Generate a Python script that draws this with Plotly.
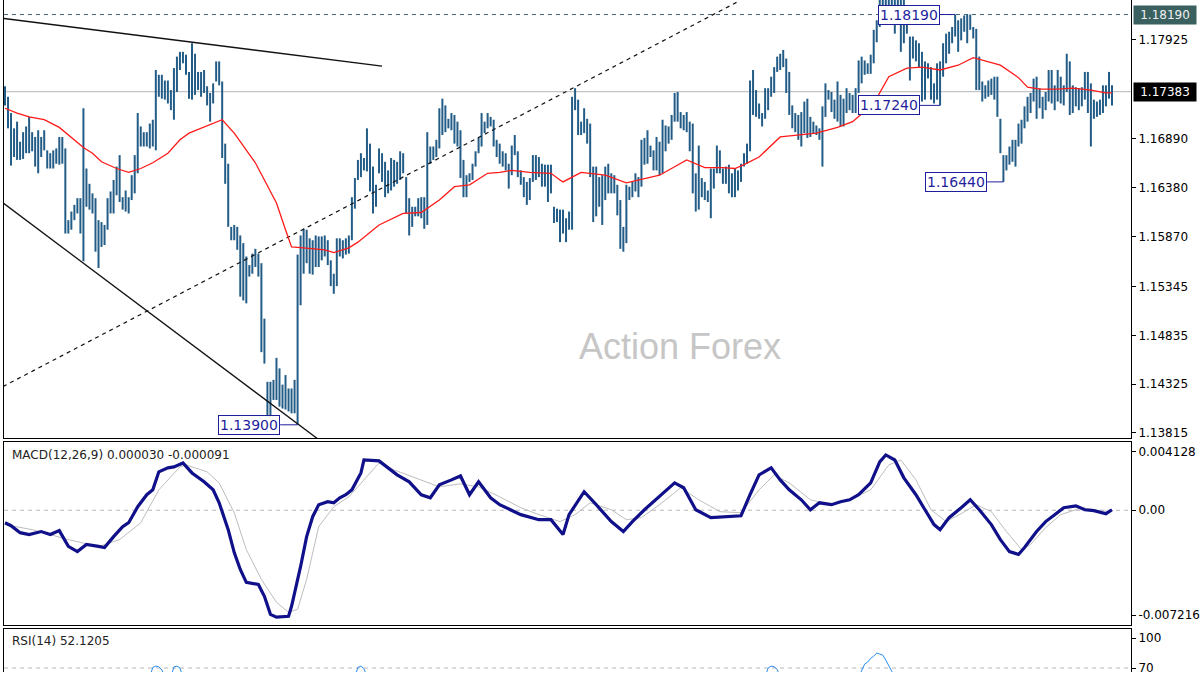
import plotly.graph_objects as go

# ---------------- data ----------------
HIGH = [
    1.1744, 1.1733, 1.1716, 1.1700, 1.1707, 1.1686, 1.1696, 1.1702, 1.1712, 1.1696,
    1.1691, 1.1698, 1.1691, 1.1698, 1.1677, 1.1674, 1.1677, 1.1679, 1.1691, 1.1691,
    1.1679, 1.1604, 1.1613, 1.1620, 1.1627, 1.1627, 1.1721, 1.1658, 1.1642, 1.1632,
    1.1627, 1.1604, 1.1602, 1.1599, 1.1627, 1.1634, 1.1646, 1.1660, 1.1672, 1.1628,
    1.1635, 1.1628, 1.1651, 1.1672, 1.1716, 1.1702, 1.1696, 1.1696, 1.1705, 1.1709,
    1.1761, 1.1756, 1.1756, 1.1750, 1.1750, 1.1740, 1.1763, 1.1775, 1.1780, 1.1780,
    1.1777, 1.1759, 1.1789, 1.1778, 1.1759, 1.1759, 1.1761, 1.1744, 1.1737, 1.1747,
    1.1770, 1.1770, 1.1749, 1.1684, 1.1663, 1.1597, 1.1599, 1.1597, 1.1588, 1.1580,
    1.1566, 1.1557, 1.1569, 1.1574, 1.1569, 1.1559, 1.1501, 1.1435, 1.1435, 1.1437,
    1.1460, 1.1449, 1.1432, 1.1442, 1.1428, 1.1428, 1.1437, 1.1568, 1.1588, 1.1595,
    1.1594, 1.1585, 1.1583, 1.1588, 1.1587, 1.1587, 1.1588, 1.1583, 1.1562, 1.1548,
    1.1585, 1.1585, 1.1583, 1.1585, 1.1588, 1.1628, 1.1648, 1.1667, 1.1674, 1.1669,
    1.1700, 1.1684, 1.1660, 1.1641, 1.1679, 1.1674, 1.1665, 1.1656, 1.1669, 1.1667,
    1.1665, 1.1676, 1.1674, 1.1649, 1.1627, 1.1618, 1.1618, 1.1627, 1.1628, 1.1628,
    1.1696, 1.1681, 1.1681, 1.1688, 1.1721, 1.1731, 1.1724, 1.1710, 1.1716, 1.1714,
    1.1707, 1.1698, 1.1667, 1.1651, 1.1653, 1.1663, 1.1676, 1.1690, 1.1716, 1.1707,
    1.1716, 1.1712, 1.1709, 1.1688, 1.1684, 1.1676, 1.1674, 1.1663, 1.1682, 1.1693,
    1.1676, 1.1656, 1.1649, 1.1644, 1.1648, 1.1672, 1.1672, 1.1670, 1.1663, 1.1662,
    1.1662, 1.1662, 1.1618, 1.1616, 1.1615, 1.1615, 1.1606, 1.1613, 1.1733, 1.1742,
    1.1730, 1.1707, 1.1721, 1.1710, 1.1705, 1.1660, 1.1660, 1.1649, 1.1651, 1.1660,
    1.1663, 1.1653, 1.1651, 1.1641, 1.1625, 1.1597, 1.1641, 1.1639, 1.1644, 1.1653,
    1.1649, 1.1688, 1.1690, 1.1698, 1.1682, 1.1677, 1.1691, 1.1686, 1.1709, 1.1703,
    1.1702, 1.1714, 1.1737, 1.1738, 1.1717, 1.1714, 1.1717, 1.1707, 1.1705, 1.1653,
    1.1682, 1.1648, 1.1644, 1.1635, 1.1658, 1.1658, 1.1682, 1.1677, 1.1658, 1.1660,
    1.1662, 1.1653, 1.1658, 1.1656, 1.1663, 1.1674, 1.1684, 1.1750, 1.1761, 1.1740,
    1.1726, 1.1716, 1.1742, 1.1742, 1.1754, 1.1764, 1.1775, 1.1778, 1.1782, 1.1773,
    1.1759, 1.1724, 1.1716, 1.1714, 1.1717, 1.1728, 1.1731, 1.1712, 1.1707, 1.1703,
    1.1700, 1.1723, 1.1747, 1.1740, 1.1738, 1.1730, 1.1749, 1.1735, 1.1731, 1.1742,
    1.1737, 1.1735, 1.1742, 1.1771, 1.1775, 1.1771, 1.1768, 1.1777, 1.1803, 1.1813,
    1.1842, 1.1846, 1.1850, 1.1852, 1.1848, 1.1845, 1.1840, 1.1838, 1.1835, 1.1827,
    1.1796, 1.1796, 1.1792, 1.1789, 1.1780, 1.1770, 1.1768, 1.1764, 1.1747, 1.1768,
    1.1770, 1.1789, 1.1799, 1.1801, 1.1806, 1.1819, 1.1813, 1.1815, 1.1818, 1.1819,
    1.1819, 1.1806, 1.1804, 1.1775, 1.1749, 1.1745, 1.1750, 1.1752, 1.1754, 1.1754,
    1.1710, 1.1672, 1.1672, 1.1681, 1.1688, 1.1688, 1.1705, 1.1709, 1.1723, 1.1733,
    1.1737, 1.1752, 1.1754, 1.1742, 1.1733, 1.1738, 1.1761, 1.1761, 1.1745, 1.1761,
    1.1754, 1.1745, 1.1778, 1.1770, 1.1745, 1.1743, 1.1742, 1.1743, 1.1759, 1.1759,
    1.1747, 1.1730, 1.1728, 1.1730, 1.1745, 1.1745, 1.1759, 1.1745,
]
LOW = [
    1.1724, 1.1700, 1.1661, 1.1670, 1.1667, 1.1667, 1.1668, 1.1674, 1.1674, 1.1676,
    1.1660, 1.1653, 1.1670, 1.1677, 1.1658, 1.1658, 1.1658, 1.1663, 1.1662, 1.1663,
    1.1590, 1.1590, 1.1594, 1.1604, 1.1611, 1.1590, 1.1561, 1.1618, 1.1615, 1.1611,
    1.1571, 1.1554, 1.1576, 1.1578, 1.1594, 1.1611, 1.1611, 1.1630, 1.1623, 1.1615,
    1.1613, 1.1611, 1.1625, 1.1632, 1.1653, 1.1681, 1.1681, 1.1681, 1.1679, 1.1681,
    1.1677, 1.1733, 1.1731, 1.1730, 1.1726, 1.1719, 1.1709, 1.1738, 1.1761, 1.1768,
    1.1756, 1.1731, 1.1730, 1.1735, 1.1740, 1.1733, 1.1737, 1.1724, 1.1707, 1.1726,
    1.1749, 1.1745, 1.1669, 1.1642, 1.1597, 1.1583, 1.1583, 1.1573, 1.1524, 1.1520,
    1.1517, 1.1545, 1.1548, 1.1555, 1.1545, 1.1466, 1.1454, 1.1399, 1.1397, 1.1416,
    1.1416, 1.1409, 1.1407, 1.1406, 1.1404, 1.1402, 1.1402, 1.1390, 1.1515, 1.1548,
    1.1559, 1.1548, 1.1547, 1.1555, 1.1555, 1.1562, 1.1566, 1.1557, 1.1535, 1.1527,
    1.1535, 1.1566, 1.1564, 1.1568, 1.1569, 1.1583, 1.1616, 1.1646, 1.1649, 1.1656,
    1.1655, 1.1634, 1.1611, 1.1618, 1.1653, 1.1644, 1.1628, 1.1632, 1.1635, 1.1639,
    1.1642, 1.1646, 1.1653, 1.1611, 1.1588, 1.1597, 1.1608, 1.1608, 1.1606, 1.1595,
    1.1599, 1.1663, 1.1667, 1.1670, 1.1679, 1.1693, 1.1696, 1.1700, 1.1698, 1.1684,
    1.1681, 1.1648, 1.1628, 1.1628, 1.1644, 1.1646, 1.1660, 1.1674, 1.1681, 1.1695,
    1.1700, 1.1702, 1.1681, 1.1670, 1.1663, 1.1660, 1.1656, 1.1637, 1.1651, 1.1672,
    1.1649, 1.1641, 1.1628, 1.1620, 1.1625, 1.1644, 1.1646, 1.1649, 1.1639, 1.1639,
    1.1623, 1.1632, 1.1601, 1.1602, 1.1581, 1.1590, 1.1581, 1.1594, 1.1594, 1.1719,
    1.1693, 1.1693, 1.1695, 1.1684, 1.1649, 1.1602, 1.1608, 1.1618, 1.1599, 1.1625,
    1.1632, 1.1632, 1.1632, 1.1609, 1.1574, 1.1571, 1.1580, 1.1625, 1.1628, 1.1634,
    1.1628, 1.1639, 1.1662, 1.1663, 1.1670, 1.1656, 1.1656, 1.1651, 1.1653, 1.1676,
    1.1684, 1.1688, 1.1707, 1.1707, 1.1700, 1.1698, 1.1696, 1.1676, 1.1632, 1.1613,
    1.1615, 1.1628, 1.1625, 1.1623, 1.1606, 1.1637, 1.1653, 1.1653, 1.1642, 1.1642,
    1.1632, 1.1628, 1.1628, 1.1635, 1.1644, 1.1660, 1.1663, 1.1676, 1.1714, 1.1712,
    1.1710, 1.1702, 1.1710, 1.1719, 1.1733, 1.1737, 1.1759, 1.1761, 1.1764, 1.1737,
    1.1714, 1.1700, 1.1696, 1.1688, 1.1681, 1.1695, 1.1690, 1.1691, 1.1695, 1.1693,
    1.1688, 1.1660, 1.1712, 1.1730, 1.1717, 1.1710, 1.1707, 1.1702, 1.1702, 1.1716,
    1.1719, 1.1716, 1.1716, 1.1737, 1.1747, 1.1756, 1.1757, 1.1757, 1.1768, 1.1790,
    1.1806, 1.1820, 1.1825, 1.1815, 1.1818, 1.1799, 1.1813, 1.1780, 1.1789, 1.1799,
    1.1750, 1.1773, 1.1770, 1.1764, 1.1728, 1.1730, 1.1752, 1.1730, 1.1726, 1.1730,
    1.1724, 1.1754, 1.1768, 1.1778, 1.1789, 1.1796, 1.1780, 1.1792, 1.1801, 1.1789,
    1.1803, 1.1794, 1.1740, 1.1740, 1.1728, 1.1731, 1.1733, 1.1735, 1.1730, 1.1712,
    1.1674, 1.1644, 1.1656, 1.1662, 1.1665, 1.1660, 1.1681, 1.1684, 1.1700, 1.1707,
    1.1716, 1.1728, 1.1710, 1.1721, 1.1710, 1.1719, 1.1728, 1.1726, 1.1719, 1.1728,
    1.1726, 1.1724, 1.1738, 1.1714, 1.1716, 1.1723, 1.1719, 1.1723, 1.1730, 1.1716,
    1.1681, 1.1710, 1.1712, 1.1714, 1.1716, 1.1723, 1.1731, 1.1724,
]

# red moving average (bar index, value)
MA_IDX = [0, 4, 8, 13, 18, 22, 26, 29, 32, 37, 41, 45, 49, 54, 58, 61, 65, 71, 72, 76,
          83, 86, 90, 93, 95, 99, 106, 109, 114, 117, 122, 124, 132, 138, 144, 149, 154,
          160, 164, 168, 174, 181, 184, 185, 191, 199, 206, 210, 217, 226, 232, 238, 242,
          245, 250, 257, 264, 269, 276, 281, 288, 293, 299, 304, 310, 316, 321, 327, 330,
          336, 339, 343, 349, 354, 360, 365, 367]
MA_VAL = [1.1721, 1.1716, 1.1712, 1.1709, 1.1701, 1.1690, 1.1680, 1.1674, 1.1665, 1.1658,
          1.1654, 1.1658, 1.1664, 1.1674, 1.1688, 1.1695, 1.1700, 1.1707, 1.1709, 1.1695,
          1.1664, 1.1646, 1.1622, 1.1594, 1.1576, 1.1575, 1.1573, 1.1570, 1.1575, 1.1581,
          1.1594, 1.1599, 1.1611, 1.1612, 1.1625, 1.1639, 1.1641, 1.1653, 1.1654, 1.1656,
          1.1654, 1.1653, 1.1646, 1.1644, 1.1654, 1.1651, 1.1643, 1.1646, 1.1651, 1.1667,
          1.1659, 1.1659, 1.1658, 1.1662, 1.1670, 1.1691, 1.1693, 1.1695, 1.1701, 1.1707,
          1.1726, 1.1754, 1.1763, 1.1764, 1.1761, 1.1766, 1.1774, 1.1769, 1.1766, 1.1753,
          1.1743, 1.1741, 1.1741, 1.1742, 1.1740, 1.1737, 1.1737]

# MACD main line and signal (bar index, value)
MACD_IDX = [0, 2, 5, 8, 12, 15, 18, 21, 24, 27, 31, 33, 36, 39, 41, 44, 47, 49, 51, 54,
            56, 59, 62, 66, 69, 71, 74, 76, 78, 80, 84, 86, 88, 90, 94, 95, 98, 100, 102,
            104, 107, 109, 111, 113, 115, 118, 119, 124, 127, 130, 134, 138, 141, 144, 148,
            151, 154, 157, 161, 164, 171, 177, 181, 185, 187, 192, 196, 201, 205, 208, 212,
            217, 222, 225, 229, 234, 244, 247, 250, 254, 257, 260, 264, 267, 270, 274, 277,
            280, 283, 287, 290, 292, 295, 298, 302, 305, 308, 310, 313, 317, 320, 323, 327,
            330, 333, 336, 338, 342, 345, 348, 351, 355, 358, 361, 365, 367]
MACD_VAL = [-0.00079, -0.00098, -0.00142, -0.00154, -0.00135, -0.00154, -0.00129, -0.00229,
            -0.00262, -0.00217, -0.00229, -0.00236, -0.00167, -0.00104, -0.00079, 0.00022,
            0.00098, 0.00129, 0.00243, 0.00268, 0.00274, 0.00299, 0.00236, 0.00180, 0.00129,
            0.00047, -0.00123, -0.00268, -0.00375, -0.00457, -0.00470, -0.00545, -0.00659,
            -0.00677, -0.00671, -0.00608, -0.00356, -0.00167, -0.00041, 0.00035, 0.00054,
            0.00047, 0.00079, 0.00098, 0.00129, 0.00236, 0.00318, 0.00312, 0.00268, 0.00224,
            0.00180, 0.00098, 0.00079, 0.00161, 0.00192, 0.00217, 0.00098, 0.00180, 0.00079,
            0.00035, -0.00028, -0.00060, -0.00060, -0.00154, -0.00028, 0.00117, 0.00035,
            -0.00072, -0.00135, -0.00072, 0.00003, 0.00085, 0.00173, 0.00142, 0.00003,
            -0.00047, -0.00035, 0.00098, 0.00224, 0.00268, 0.00192, 0.00129, 0.00066,
            0.00003, 0.00047, 0.00035, 0.00054, 0.00066, 0.00098, 0.00173, 0.00306, 0.00350,
            0.00318, 0.00205, 0.00098, 0.00003, -0.00091, -0.00123, -0.00047, 0.00016,
            0.00066, 0.00003, -0.00091, -0.00186, -0.00262, -0.00280, -0.00236, -0.00135,
            -0.00072, -0.00028, 0.00016, 0.00028, 0.00003, -0.00003, -0.00022, 0.000030]
SIGNAL_IDX = [0, 9, 21, 31, 38, 45, 51, 58, 60, 67, 71, 76, 80, 85, 90, 94, 97, 100, 104,
              109, 114, 120, 124, 129, 138, 144, 151, 157, 164, 171, 177, 184, 189, 194,
              201, 206, 211, 217, 224, 230, 237, 244, 250, 255, 260, 267, 274, 280, 287,
              293, 297, 302, 307, 312, 317, 322, 327, 332, 337, 340, 345, 350, 357, 363, 367]
SIGNAL_VAL = [-0.00091, -0.00123, -0.00186, -0.00230, -0.00186, -0.00079, 0.00129, 0.00274,
              0.00287, 0.00243, 0.00173, -0.00016, -0.00249, -0.00438, -0.00583, -0.00646,
              -0.00627, -0.00438, -0.00104, 0.00022, 0.00085, 0.00211, 0.00299, 0.00255,
              0.00192, 0.00148, 0.00167, 0.00148, 0.00085, 0.00016, -0.00028, -0.00072,
              -0.00028, 0.00047, 0.00003, -0.00060, -0.00047, 0.00035, 0.00142, 0.00066,
              -0.00009, -0.00016, 0.00129, 0.00224, 0.00173, 0.00066, 0.00035, 0.00066,
              0.00129, 0.00287, 0.00318, 0.00192, 0.00003, -0.00072, -0.00022, 0.00035,
              -0.00009, -0.00135, -0.00249, -0.00217, -0.00110, -0.00028, 0.00016, -0.00003,
              -0.000091]

# RSI: only the parts that rise into the visible strip of the panel
RSI_IDX = [48, 49, 50, 51, 52, 53, None, 55, 56, 57, 58, 59, None,
           116, 117, 118, 119, 120, None, 252, 253, 254, 255, 256, 257, None,
           283, 284, 285, 286, 287, 288, 289, 290, 291, 292, 293, 294, 295]
RSI_VAL = [63, 70.5, 71.5, 71.0, 68.5, 63, None, 63, 70.8, 71.5, 70.0, 63, None,
           63, 70.5, 71.5, 69.5, 63, None, 63, 70.0, 71.5, 71.0, 69.0, 63, None,
           63, 68.0, 73.0, 74.6, 77.5, 79.2, 81.5, 80.8, 80.0, 76.2, 71.5, 68.0, 63]

PRICE_TICKS = [1.17925, 1.16890, 1.16380, 1.15870, 1.15345, 1.14835, 1.14325, 1.13815]
RESIST_LEVEL = 1.18190
LAST_PRICE = 1.17383
MACD_MAX, MACD_MIN = 0.004128, -0.007216
MACD_LAST, SIGNAL_LAST = 0.000030, -0.000091
RSI_LAST = 52.1205
RSI_LEVEL = 70

PIVOT_TEXT = ["1.13900", "1.18190", "1.17240", "1.16440"]
PIVOT_PRICE = [1.13900, 1.18190, 1.17240, 1.16440]
PIVOT_BAR = [97, 315, 310, 331]
PIVOT_BOX_END = [91.2, 310.0, 303.3, 325.6]

TREND_X = [[-0.66, 125.0], [-0.66, 103.8], [-0.66, 242.7]]
TREND_Y = [[1.1815, 1.1765], [1.1622, 1.1375], [1.1430, 1.1832]]
TREND_DASH = ["solid", "solid", "dash"]

# ---------------- styling / layout ----------------
W, H = 1200, 675
L_M, R_M = 4, 69
BAR_COLOR = "#235d87"
NAVY = "#1f1f9c"
FONT = "DejaVu Sans"

n = len(HIGH)
assert n == len(LOW)
XR = [-0.332, 373.3]

# pixel rows of the three panels
MAIN_TOP_PX, MAIN_BOT_PX = 0, 440
MACD_TOP_PX, MACD_BOT_PX = 444, 628
RSI_TOP_PX = 632

def frac(py):
    return 1 - py / H

# main price scale
P_TOP = 1.18342
P_PER_PX = 0.0001041
main_range = [P_TOP - P_PER_PX * MAIN_BOT_PX, P_TOP]

# MACD scale
M_PER_PX = 0.00006302
M_ZERO_PX = 512.5
def mv(py):
    return (M_ZERO_PX - py) * M_PER_PX
macd_range = [mv(MACD_BOT_PX), mv(MACD_TOP_PX)]

# RSI scale: 100 at panel top, 1.3 px per unit
def rv(py):
    return 100 - (py - RSI_TOP_PX) / 1.3
rsi_range = [rv(H), 100]

fig = go.Figure()

# OHLC bars (high-low strokes)
bx, by = [], []
for i in range(n):
    bx += [i, i, None]
    by += [LOW[i], HIGH[i], None]
fig.add_trace(go.Scatter(x=bx, y=by, mode="lines", line=dict(color=BAR_COLOR, width=2),
                         xaxis="x", yaxis="y", hoverinfo="skip"))

# trend lines
for tx, ty, dsh in zip(TREND_X, TREND_Y, TREND_DASH):
    fig.add_trace(go.Scatter(x=tx, y=ty, mode="lines",
                             line=dict(color="#111111", width=1.3 if dsh == "solid" else 1.2,
                                       dash="solid" if dsh == "solid" else "4px,4px"),
                             xaxis="x", yaxis="y", hoverinfo="skip"))

# moving average
fig.add_trace(go.Scatter(x=MA_IDX, y=MA_VAL, mode="lines", line=dict(color="#ff1a1a", width=1.3),
                         xaxis="x", yaxis="y", hoverinfo="skip"))

# pivot connectors
for p, b0, b1 in zip(PIVOT_PRICE, PIVOT_BOX_END, PIVOT_BAR):
    fig.add_trace(go.Scatter(x=[b0, b1], y=[p, p], mode="lines", line=dict(color=NAVY, width=1),
                             xaxis="x", yaxis="y", hoverinfo="skip"))

# MACD
fig.add_trace(go.Scatter(x=SIGNAL_IDX, y=SIGNAL_VAL, mode="lines", line=dict(color="#bdbdbd", width=1),
                         xaxis="x2", yaxis="y2", hoverinfo="skip"))
fig.add_trace(go.Scatter(x=MACD_IDX, y=MACD_VAL, mode="lines", line=dict(color="#10108a", width=3.2),
                         xaxis="x2", yaxis="y2", hoverinfo="skip"))

# RSI
fig.add_trace(go.Scatter(x=RSI_IDX, y=RSI_VAL, mode="lines", connectgaps=False,
                         line=dict(color="#2a8cf0", width=1), xaxis="x3", yaxis="y3", hoverinfo="skip"))

shapes = [
    dict(type="line", xref="paper", x0=0, x1=1, yref="y", y0=RESIST_LEVEL, y1=RESIST_LEVEL,
         line=dict(color="#3d6070", width=1, dash="4px,4px"), layer="below"),
    dict(type="line", xref="paper", x0=0, x1=1, yref="y", y0=LAST_PRICE, y1=LAST_PRICE,
         line=dict(color="#c4c4c4", width=1.2), layer="below"),
    dict(type="line", xref="paper", x0=0, x1=1, yref="y2", y0=0, y1=0,
         line=dict(color="#b8b8b8", width=1, dash="4px,4px"), layer="below"),
    dict(type="line", xref="paper", x0=0, x1=1, yref="y3", y0=RSI_LEVEL, y1=RSI_LEVEL,
         line=dict(color="#b8b8b8", width=1, dash="4px,4px"), layer="below"),
]

annotations = []
# pivot boxes
for txt, p, bend in zip(PIVOT_TEXT, PIVOT_PRICE, PIVOT_BOX_END):
    annotations.append(dict(x=bend, y=p, xref="x", yref="y", xanchor="right", yanchor="middle",
                            text=txt, showarrow=False, font=dict(family=FONT, size=14, color=NAVY),
                            bgcolor="white", bordercolor=NAVY, borderwidth=1, borderpad=1))
# right-axis price boxes
annotations.append(dict(x=1, y=RESIST_LEVEL, xref="paper", yref="y", xanchor="left", yanchor="middle",
                        xshift=2, text=f"{RESIST_LEVEL:.5f}", showarrow=False, width=60, height=16,
                        font=dict(family=FONT, size=12, color="#f0f0f0"), bgcolor="#3a6060"))
annotations.append(dict(x=1, y=LAST_PRICE, xref="paper", yref="y", xanchor="left", yanchor="middle",
                        xshift=2, text=f"{LAST_PRICE:.5f}", showarrow=False, width=60, height=16,
                        font=dict(family=FONT, size=12, color="#ffffff"), bgcolor="#000000"))
# indicator titles
annotations.append(dict(x=(10 - L_M) / (W - L_M - R_M), y=frac(457), xref="paper", yref="paper",
                        xanchor="left", yanchor="middle", showarrow=False,
                        text=f"MACD(12,26,9) {MACD_LAST:.6f} {SIGNAL_LAST:.6f}",
                        font=dict(family=FONT, size=12, color="#222222")))
annotations.append(dict(x=(10 - L_M) / (W - L_M - R_M), y=frac(644), xref="paper", yref="paper",
                        xanchor="left", yanchor="middle", showarrow=False,
                        text=f"RSI(14) {RSI_LAST:.4f}",
                        font=dict(family=FONT, size=12, color="#222222")))
# watermark
annotations.append(dict(x=(680 - L_M) / (W - L_M - R_M), y=frac(348), xref="paper", yref="paper",
                        xanchor="center", yanchor="middle", showarrow=False, text="Action Forex",
                        font=dict(family="Liberation Sans", size=36, color="#c6c6c6")))

axis_font = dict(family=FONT, size=12, color="#000000")
common_x = dict(range=XR, showgrid=False, zeroline=False, showticklabels=False, ticks="",
                showline=True, linecolor="#000000", linewidth=1)
common_y = dict(side="right", showgrid=False, zeroline=False, showline=True, mirror=True,
                linecolor="#000000", linewidth=1, ticks="outside", ticklen=4, tickcolor="#000000",
                tickfont=axis_font, ticklabeloverflow="allow")

fig.update_layout(
    width=W, height=H, autosize=False,
    margin=dict(l=L_M, r=R_M, t=0, b=0, pad=0),
    paper_bgcolor="white", plot_bgcolor="white", showlegend=False,
    xaxis=dict(common_x, anchor="y", domain=[0, 1], mirror=False),
    xaxis2=dict(common_x, anchor="y2", domain=[0, 1], matches="x", mirror=True),
    xaxis3=dict(common_x, anchor="y3", domain=[0, 1], matches="x", side="top", mirror=False),
    yaxis=dict(common_y, anchor="x", domain=[frac(MAIN_BOT_PX), 1], range=main_range,
               tickvals=PRICE_TICKS, ticktext=[f"{v:.5f}" for v in PRICE_TICKS]),
    yaxis2=dict(common_y, anchor="x2", domain=[frac(MACD_BOT_PX), frac(MACD_TOP_PX)], range=macd_range,
                tickvals=[mv(454), 0, mv(618)],
                ticktext=[f"{MACD_MAX:.6f}", "0.00", f"{MACD_MIN:.6f}"]),
    yaxis3=dict(common_y, anchor="x3", domain=[0, frac(RSI_TOP_PX)], range=rsi_range,
                tickvals=[rv(641), RSI_LEVEL], ticktext=["100", str(RSI_LEVEL)]),
    shapes=shapes, annotations=annotations,
)

fig.write_html("out.html", config={"displayModeBar": False},
               post_script="document.body.style.margin='0';document.body.style.overflow='hidden';")
